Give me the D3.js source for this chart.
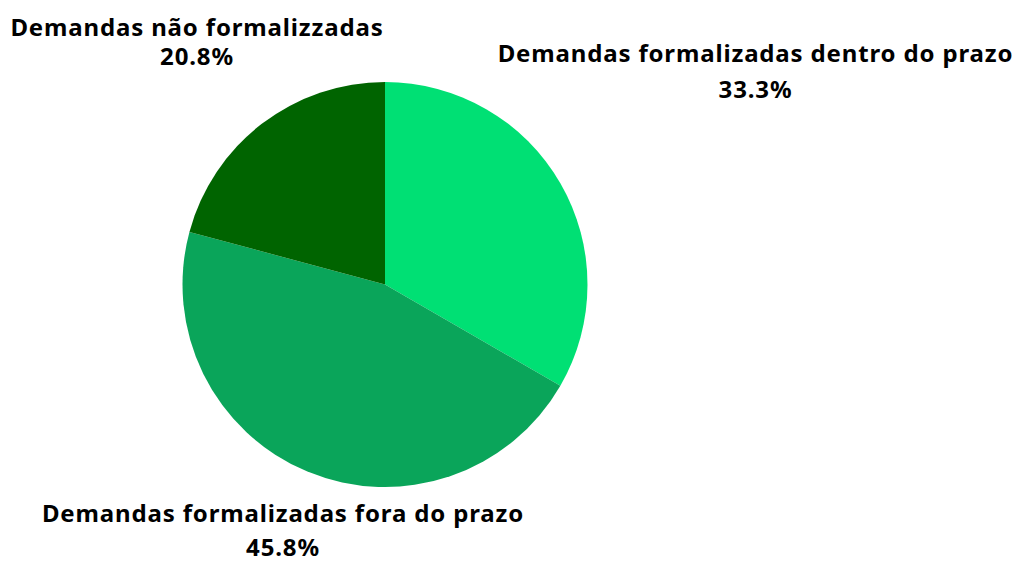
<!DOCTYPE html>
<html>
<head>
<meta charset="utf-8">
<script src="https://cdn.jsdelivr.net/npm/d3@7"></script>
<style>
  html, body { margin: 0; padding: 0; background: #ffffff; }
  svg { display: block; }
  .lbl { font-family: "Noto Sans", "Open Sans", sans-serif; font-weight: 700; font-size: 24px; letter-spacing: 0.85px; fill: #000; }
</style>
</head>
<body>
<svg id="chart" width="1019" height="561"></svg>
<script>
// Demand status shares (percent)
const categories = [
  "Demandas formalizadas dentro do prazo",
  "Demandas formalizadas fora do prazo",
  "Demandas não formalizzadas"
];
const values = [33.3, 45.8, 20.8];
const colors = ["#00e074", "#0aa55a", "#006400"];

// Label placement: centre x, baseline of name line, baseline of value line
const labelPos = [
  [755.5, 61.5, 98],
  [283, 521.5, 556],
  [197, 35.5, 65]
];

const cx = 385, cy = 284.5, radius = 202.5;

const svg = d3.select("#chart");

const data = categories.map((c, i) => ({ name: c, value: values[i], color: colors[i] }));

const pie = d3.pie().value(d => d.value).sort(null);
const arc = d3.arc().innerRadius(0).outerRadius(radius);

const g = svg.append("g").attr("transform", `translate(${cx},${cy})`);

g.selectAll("path")
  .data(pie(data))
  .join("path")
  .attr("d", arc)
  .attr("fill", d => d.data.color);

const fmt = d3.format(".1f");

const labels = svg.selectAll("text.lbl")
  .data(data)
  .join("text")
  .attr("class", "lbl")
  .attr("text-anchor", "middle");

labels.append("tspan")
  .attr("x", (d, i) => labelPos[i][0])
  .attr("y", (d, i) => labelPos[i][1])
  .text(d => d.name);

labels.append("tspan")
  .attr("x", (d, i) => labelPos[i][0])
  .attr("y", (d, i) => labelPos[i][2])
  .text(d => fmt(d.value) + "%");
</script>
</body>
</html>
